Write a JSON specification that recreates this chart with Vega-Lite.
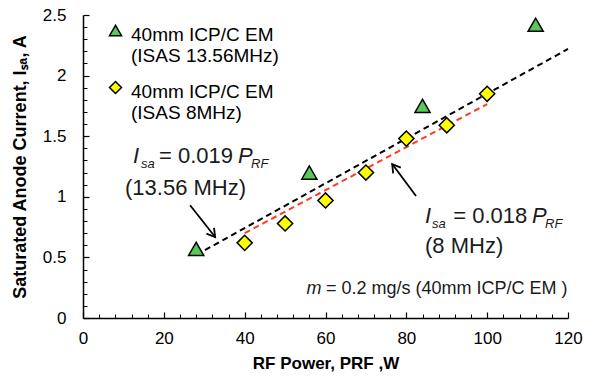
{
  "$schema": "https://vega.github.io/schema/vega-lite/v6.json",
  "width": 485,
  "height": 303,
  "autosize": "none",
  "padding": {"left": 83, "top": 15, "right": 25, "bottom": 63},
  "background": "white",
  "config": {"view": {"stroke": null}, "font": "Liberation Sans"},
  "datasets": {
    "pts": [
      {"P": 28, "I": 0.57, "series": "40mm ICP/C EM (ISAS 13.56MHz)"},
      {"P": 56, "I": 1.2, "series": "40mm ICP/C EM (ISAS 13.56MHz)"},
      {"P": 84, "I": 1.75, "series": "40mm ICP/C EM (ISAS 13.56MHz)"},
      {"P": 112, "I": 2.42, "series": "40mm ICP/C EM (ISAS 13.56MHz)"},
      {"P": 40, "I": 0.62, "series": "40mm ICP/C EM (ISAS 8MHz)"},
      {"P": 50, "I": 0.78, "series": "40mm ICP/C EM (ISAS 8MHz)"},
      {"P": 60, "I": 0.97, "series": "40mm ICP/C EM (ISAS 8MHz)"},
      {"P": 70, "I": 1.2, "series": "40mm ICP/C EM (ISAS 8MHz)"},
      {"P": 80, "I": 1.48, "series": "40mm ICP/C EM (ISAS 8MHz)"},
      {"P": 90, "I": 1.59, "series": "40mm ICP/C EM (ISAS 8MHz)"},
      {"P": 100, "I": 1.85, "series": "40mm ICP/C EM (ISAS 8MHz)"}
    ],
    "fits": [
      {"P": 28, "I": 0.52, "fit": "13.56 MHz"},
      {"P": 120, "I": 2.22, "fit": "13.56 MHz"},
      {"P": 40, "I": 0.70, "fit": "8 MHz"},
      {"P": 100, "I": 1.765, "fit": "8 MHz"}
    ],
    "arrows": [
      {"id": "a1", "x": 26.5, "y": 0.93, "x2": 32.7, "y2": 0.668},
      {"id": "a2", "x": 82.4, "y": 1.007, "x2": 76.5, "y2": 1.27}
    ],
    "ann": [
      {"x": 12.37, "y": 1.279, "text": "I", "part": "bigit"},
      {"x": 14.35, "y": 1.238, "text": "sa", "part": "sub"},
      {"x": 18.8, "y": 1.279, "text": "= 0.019", "part": "big"},
      {"x": 38.35, "y": 1.279, "text": "P", "part": "bigit"},
      {"x": 41.57, "y": 1.238, "text": "RF", "part": "sub"},
      {"x": 10.39, "y": 1.015, "text": "(13.56 MHz)", "part": "big"},
      {"x": 84.62, "y": 0.786, "text": "I", "part": "bigit"},
      {"x": 86.35, "y": 0.745, "text": "sa", "part": "sub"},
      {"x": 91.6, "y": 0.786, "text": "= 0.018", "part": "big"},
      {"x": 111.09, "y": 0.786, "text": "P", "part": "bigit"},
      {"x": 114.31, "y": 0.745, "text": "RF", "part": "sub"},
      {"x": 84.62, "y": 0.536, "text": "(8 MHz)", "part": "big"},
      {"x": 55.3, "y": 0.2, "text": "m", "part": "noteit"},
      {"x": 60.1, "y": 0.2, "text": "= 0.2 mg/s (40mm ICP/C EM )", "part": "note"}
    ]
  },
  "resolve": {"axis": {"x": "independent", "y": "independent"}},
  "layer": [
    {
      "data": {"name": "fits"},
      "transform": [{"filter": "datum.fit == '8 MHz'"}],
      "mark": {"type": "line", "color": "#ff3b1f", "strokeWidth": 2, "strokeDash": [6, 4]},
      "encoding": {
        "x": {"field": "P", "type": "quantitative", "scale": {"domain": [0, 120], "nice": false},
          "axis": {"orient": "bottom", "zindex": 2, "values": [0, 20, 40, 60, 80, 100, 120], "ticks": true, "tickSize": -6, "tickColor": "#000000", "tickWidth": 1.2, "domainColor": "black", "domainWidth": 1.5, "grid": false, "labelFont": "Liberation Sans", "labelFontSize": 17, "labelColor": "black", "labelPadding": 18, "labelFlush": false, "labelOverlap": false, "title": "RF Power, PRF ,W", "titleFont": "Liberation Sans", "titleFontSize": 17, "titleFontWeight": "bold", "titleColor": "black", "titlePadding": 9}},
        "y": {"field": "I", "type": "quantitative", "scale": {"domain": [0, 2.5], "nice": false},
          "axis": {"orient": "left", "zindex": 2, "values": [0, 0.5, 1, 1.5, 2, 2.5], "format": "~g", "ticks": true, "tickSize": -6, "tickColor": "#000000", "tickWidth": 1.2, "domainColor": "black", "domainWidth": 1.5, "grid": false, "labelFont": "Liberation Sans", "labelFontSize": 17, "labelColor": "black", "labelPadding": 23, "labelFlush": false, "labelOverlap": false, "title": "Saturated Anode Current, Iₛₐ, A", "titleFont": "Liberation Sans", "titleFontSize": 18, "titleFontWeight": "bold", "titleColor": "black", "titlePadding": 13}}
      }
    },
    {
      "data": {"name": "fits"},
      "transform": [{"filter": "datum.fit == '13.56 MHz'"}],
      "mark": {"type": "line", "color": "black", "strokeWidth": 2, "strokeDash": [6, 4]},
      "encoding": {
        "x": {"field": "P", "type": "quantitative", "axis": null},
        "y": {"field": "I", "type": "quantitative", "axis": null}
      }
    },
    {
      "data": {"name": "arrows"},
      "mark": {"type": "rule", "color": "black", "strokeWidth": 1.8},
      "encoding": {
        "x": {"field": "x", "type": "quantitative",
          "axis": {"orient": "bottom", "zindex": 2, "values": [4, 8, 12, 16, 24, 28, 32, 36, 44, 48, 52, 56, 64, 68, 72, 76, 84, 88, 92, 96, 104, 108, 112, 116], "ticks": true, "tickSize": -4, "tickColor": "#000000", "labels": false, "domain": false, "grid": false, "title": null}},
        "y": {"field": "y", "type": "quantitative",
          "axis": {"orient": "left", "zindex": 2, "values": [0.1, 0.2, 0.3, 0.4, 0.6, 0.7, 0.8, 0.9, 1.1, 1.2, 1.3, 1.4, 1.6, 1.7, 1.8, 1.9, 2.1, 2.2, 2.3, 2.4], "ticks": true, "tickSize": -4, "tickColor": "#000000", "labels": false, "domain": false, "grid": false, "title": null}},
        "x2": {"field": "x2"},
        "y2": {"field": "y2"}
      }
    },
    {
      "data": {"name": "arrows"},
      "transform": [{"filter": "datum.id == 'a1'"}],
      "mark": {"type": "point", "shape": "M-0.6,1L0,0L0.6,1", "filled": false, "stroke": "black", "strokeWidth": 1.8, "size": 256, "angle": 142, "opacity": 1},
      "encoding": {
        "x": {"field": "x2", "type": "quantitative", "axis": null},
        "y": {"field": "y2", "type": "quantitative", "axis": null}
      }
    },
    {
      "data": {"name": "arrows"},
      "transform": [{"filter": "datum.id == 'a2'"}],
      "mark": {"type": "point", "shape": "M-0.6,1L0,0L0.6,1", "filled": false, "stroke": "black", "strokeWidth": 1.8, "size": 256, "angle": 323, "opacity": 1},
      "encoding": {
        "x": {"field": "x2", "type": "quantitative", "axis": null},
        "y": {"field": "y2", "type": "quantitative", "axis": null}
      }
    },
    {
      "data": {"name": "pts"},
      "mark": {"type": "point", "filled": true, "stroke": "black", "strokeWidth": 1.5, "size": 230, "opacity": 1},
      "encoding": {
        "x": {"field": "P", "type": "quantitative", "axis": null},
        "y": {"field": "I", "type": "quantitative", "axis": null},
        "fill": {"field": "series", "type": "nominal",
          "scale": {"domain": ["40mm ICP/C EM (ISAS 13.56MHz)", "40mm ICP/C EM (ISAS 8MHz)"], "range": ["#58c858", "#ffff00"]},
          "legend": {"orient": "none", "legendX": 23, "legendY": 6, "title": null, "padding": 0, "labelExpr": "[slice(datum.label, 0, 13), slice(datum.label, 14)]", "labelFont": "Liberation Sans", "labelFontSize": 19, "labelColor": "black", "labelLineHeight": 24, "labelBaseline": "top", "labelOffset": 6, "labelLimit": 0, "symbolSize": 144, "symbolStrokeColor": "black", "symbolStrokeWidth": 1.5, "symbolOpacity": 1, "rowPadding": 12, "encode": {"labels": {"update": {"dy": {"value": -5}}}}}},
        "shape": {"field": "series", "type": "nominal",
          "scale": {"domain": ["40mm ICP/C EM (ISAS 13.56MHz)", "40mm ICP/C EM (ISAS 8MHz)"], "range": ["triangle-up", "diamond"]}}
      }
    },
    {
      "data": {"name": "ann"},
      "transform": [{"filter": "datum.part == 'big'"}],
      "mark": {"type": "text", "align": "left", "baseline": "alphabetic", "font": "Liberation Sans", "fontSize": 22, "color": "#1a1a1a"},
      "encoding": {"x": {"field": "x", "type": "quantitative", "axis": null}, "y": {"field": "y", "type": "quantitative", "axis": null}, "text": {"field": "text"}}
    },
    {
      "data": {"name": "ann"},
      "transform": [{"filter": "datum.part == 'bigit'"}],
      "mark": {"type": "text", "align": "left", "baseline": "alphabetic", "font": "Liberation Sans", "fontSize": 22, "fontStyle": "italic", "color": "#1a1a1a"},
      "encoding": {"x": {"field": "x", "type": "quantitative", "axis": null}, "y": {"field": "y", "type": "quantitative", "axis": null}, "text": {"field": "text"}}
    },
    {
      "data": {"name": "ann"},
      "transform": [{"filter": "datum.part == 'sub'"}],
      "mark": {"type": "text", "align": "left", "baseline": "alphabetic", "font": "Liberation Sans", "fontSize": 13, "fontStyle": "italic", "color": "#1a1a1a"},
      "encoding": {"x": {"field": "x", "type": "quantitative", "axis": null}, "y": {"field": "y", "type": "quantitative", "axis": null}, "text": {"field": "text"}}
    },
    {
      "data": {"name": "ann"},
      "transform": [{"filter": "datum.part == 'note'"}],
      "mark": {"type": "text", "align": "left", "baseline": "alphabetic", "font": "Liberation Sans", "fontSize": 18, "color": "#1a1a1a"},
      "encoding": {"x": {"field": "x", "type": "quantitative", "axis": null}, "y": {"field": "y", "type": "quantitative", "axis": null}, "text": {"field": "text"}}
    },
    {
      "data": {"name": "ann"},
      "transform": [{"filter": "datum.part == 'noteit'"}],
      "mark": {"type": "text", "align": "left", "baseline": "alphabetic", "font": "Liberation Sans", "fontSize": 18, "fontStyle": "italic", "color": "#1a1a1a"},
      "encoding": {"x": {"field": "x", "type": "quantitative", "axis": null}, "y": {"field": "y", "type": "quantitative", "axis": null}, "text": {"field": "text"}}
    }
  ]
}
